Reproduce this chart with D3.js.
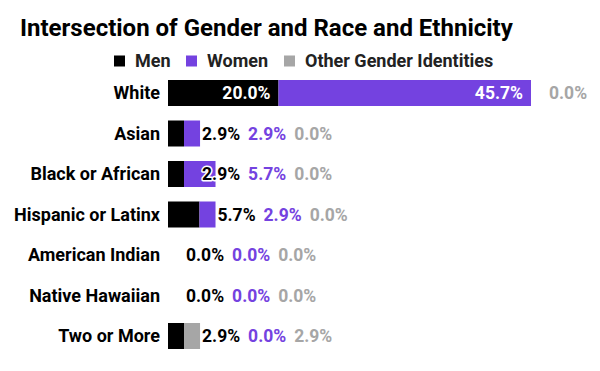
<!DOCTYPE html>
<html>
<head>
<meta charset="utf-8">
<script src="https://cdn.jsdelivr.net/npm/d3@7"></script>
<style>
  body { margin: 0; background: #fff; }
  svg { display: block; font-family: Roboto, "Noto Sans", sans-serif; }
</style>
</head>
<body>
<svg id="chart" width="600" height="371"></svg>
<script>
// data
const categories = ['White', 'Asian', 'Black or African', 'Hispanic or Latinx',
  'American Indian', 'Native Hawaiian', 'Two or More'];
const seriesNames = ['Men', 'Women', 'Other Gender Identities'];
const men = [20.0, 2.9, 2.9, 5.7, 0.0, 0.0, 2.9];
const women = [45.7, 2.9, 5.7, 2.9, 0.0, 0.0, 0.0];
const other = [0.0, 0.0, 0.0, 0.0, 0.0, 0.0, 2.9];
const colors = ['#000000', '#7442e0', '#a6a6a6'];

const rows = categories.map((c, i) => ({ cat: c, Men: men[i], Women: women[i], 'Other Gender Identities': other[i] }));

const svg = d3.select('#chart');

// title
svg.append('text')
  .attr('x', 20)
  .attr('y', 36)
  .attr('font-size', 24)
  .attr('font-weight', 700)
  .attr('fill', '#000')
  .text('Intersection of Gender and Race and Ethnicity');

// legend
const legendX = [114, 186, 284];
const legend = svg.append('g');
seriesNames.forEach((name, i) => {
  legend.append('rect')
    .attr('x', legendX[i]).attr('y', 55.5)
    .attr('width', 11).attr('height', 11)
    .attr('fill', colors[i]);
  legend.append('text')
    .attr('x', legendX[i] + 21).attr('y', 67)
    .attr('font-size', 18).attr('font-weight', 700)
    .attr('fill', '#222')
    .text(name);
});

// scales
const x = d3.scaleLinear().domain([0, 65.7]).range([168, 531]);
const y = d3.scaleBand().domain(categories).range([65.5, 363.5]).padding(0.358);

const stacked = d3.stack().keys(seriesNames)(rows);

// bars
const g = svg.append('g');
stacked.forEach((s, i) => {
  g.selectAll(null)
    .data(s)
    .join('rect')
    .attr('x', d => x(d[0]))
    .attr('y', d => y(d.data.cat))
    .attr('width', d => x(d[1]) - x(d[0]))
    .attr('height', y.bandwidth())
    .attr('fill', colors[i]);
});

// category labels
svg.append('g')
  .selectAll('text')
  .data(categories)
  .join('text')
  .attr('x', 160)
  .attr('y', d => y(d) + y.bandwidth() / 2)
  .attr('dy', '0.35em')
  .attr('text-anchor', 'end')
  .attr('font-size', 18)
  .attr('font-weight', 700)
  .attr('fill', '#000')
  .text(d => d);

// value labels: inside if it fits, else chained after the bar end
const labels = svg.append('g').attr('font-size', 17.5).attr('font-weight', 700);
rows.forEach((r, ri) => {
  let nextX = -Infinity;
  const cy = y(r.cat) + y.bandwidth() / 2;
  seriesNames.forEach((k, i) => {
    const seg = stacked[i][ri];
    const x0 = x(seg[0]), x1 = x(seg[1]);
    const t = labels.append('text')
      .attr('y', cy)
      .attr('dy', '0.35em')
      .text(r[k].toFixed(1) + '%');
    const w = t.node().getComputedTextLength();
    if (x1 - x0 > w + 16) {
      t.attr('x', x1 - 8).attr('text-anchor', 'end').attr('fill', '#fff');
      nextX = x1;
    } else {
      const lx = Math.max(x1 + 18, nextX + 8);
      t.attr('x', lx)
        .attr('fill', colors[i])
        .attr('stroke', '#fff')
        .attr('stroke-width', 3)
        .attr('stroke-linejoin', 'round')
        .attr('paint-order', 'stroke');
      nextX = lx + w;
    }
  });
});
</script>
</body>
</html>
